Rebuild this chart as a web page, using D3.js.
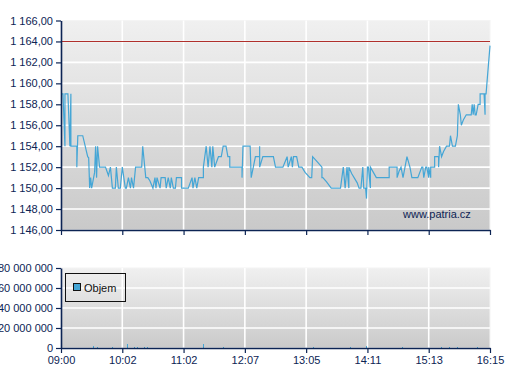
<!DOCTYPE html>
<html><head><meta charset="utf-8">
<script src="https://cdn.jsdelivr.net/npm/d3@7"></script>
<style>
html,body{margin:0;padding:0;background:#fff;}
svg{display:block;font-family:"Liberation Sans",Arial,sans-serif;}
</style></head>
<body>
<svg id="c" width="507" height="380"></svg>
<script>
// ---- data ----
const tickTimes = ["09:00","10:02","11:02","12:07","13:05","14:11","15:13","16:15"];
const priceTicks = [1146,1148,1150,1152,1154,1156,1158,1160,1162,1164,1166];
const volumeTicks = [0,20000000,40000000,60000000,80000000];
const refLevel = 1164;
const priceTimes = ["09:00","09:02","09:04","09:04","09:07","09:09","09:10","09:10","09:16","09:16","09:17","09:22","09:27","09:28","09:29","09:30","09:31","09:33","09:34","09:35","09:36","09:37","09:39","09:45","09:48","09:50","09:52","09:55","09:56","09:58","10:00",
"10:02","10:05","10:06","10:08","10:10","10:11","10:13","10:15","10:21","10:22","10:25","10:27","10:29","10:32","10:34","10:35","10:36","10:39","10:40","10:44","10:45","10:47","10:49","10:50","10:52","10:54","10:55","11:00","11:00",
"11:07","11:11","11:12","11:14","11:16","11:18","11:23","11:23","11:26","11:28","11:30","11:32","11:33","11:35","11:39","11:42","11:44","11:47","11:49","11:51","11:51","12:04","12:04","12:05",
"12:12","12:13","12:17","12:21","12:21","12:21","12:24","12:34","12:36","12:43","12:47","12:48","12:51","12:52","12:53","12:56","12:58","13:01","13:04",
"13:09","13:11","13:12","13:18","13:22","13:22","13:23","13:27","13:32","13:42","13:45","13:47","13:49","13:51","13:51","13:54","14:00","14:02","14:04","14:06","14:07","14:09","14:10",
"14:11","14:12","14:14","14:14","14:20","14:33","14:33","14:41","14:41","14:43","14:45","14:47","14:51","14:54","14:56","15:02","15:06","15:07","15:08","15:10","15:11","15:13",
"15:13","15:15","15:15","15:19","15:19","15:23","15:23","15:24","15:26","15:28","15:31","15:34","15:35","15:37","15:40","15:42","15:43","15:45","15:46","15:48","15:51","15:56","15:57","15:58","15:59","16:00","16:01","16:03","16:05","16:05","16:09","16:10","16:10","16:11","16:15"];
const priceValues = [1159,1159,1154,1159,1159,1154,1159,1154,1154,1152,1155,1155,1153,1152.9,1150,1151,1150,1151,1151.5,1154,1151,1154,1152,1152,1151.2,1152,1150,1150,1152,1150,1150,
1152,1150,1150,1151,1150,1151,1150,1152,1152,1154,1151,1151,1150.7,1150,1151,1150,1151,1150,1151,1151,1150,1151,1150,1151,1150,1150,1151,1151,1150,
1150,1151,1150,1151,1150,1151,1151,1152,1154,1152,1154,1152,1154,1152,1153,1153,1154,1154,1153,1153,1152,1152,1151,1154,
1154,1151,1153,1153,1154,1152,1153,1153,1152,1152,1153,1152,1153,1152,1153,1153,1152,1152,1151.5,
1151,1151,1153,1152.4,1152,1151,1151,1150.6,1150,1150,1152,1150,1152,1150,1152,1151.4,1150.5,1150,1150,1152,1150,1150,1149,
1152,1152,1150,1152,1151,1151,1152,1152,1151,1151.6,1152,1151,1153,1152,1151,1151,1152,1152,1151,1152,1152,1151,
1152,1151,1152,1152,1153,1153,1152,1154,1153,1153.5,1154,1154,1155,1154,1154,1155,1158,1157,1156,1156.5,1157,1157,1158,1157,1158,1157,1157,1158,1158,1159,1159,1157,1159,1159,1163.6];
const volumeTimes = ["09:32","09:36","09:52","10:07","10:13","10:16","10:23","10:26","11:23","11:44","13:12","13:52","14:09","14:46","15:25","15:34","15:42","16:02"];
const volumeValues = [2000000,1000000,1000000,4000000,1000000,1000000,1000000,1000000,4000000,1000000,1000000,1000000,2000000,1000000,1000000,1000000,1000000,1000000];
const legendLabel = "Objem";
const watermark = "www.patria.cz";

// ---- helpers ----
const toMin = s => { const [h,m] = s.split(":").map(Number); return (h-9)*60 + m; };
const loc = d3.formatLocale({decimal:",", thousands:" ", grouping:[3], currency:["",""]});
const fPrice = loc.format(",.2f");
const fVol = loc.format(",.0f");

const svg = d3.select("#c");
const L = 61, R = 490;
const navy = "#0c2454";
const lineCol = "#45a6d6";

const x = d3.scaleLinear()
  .domain(tickTimes.map(toMin))
  .range(tickTimes.map((d,i) => L + (R-L)*i/(tickTimes.length-1)));

const y = d3.scaleLinear().domain([1146,1166]).range([230,20.5]);
const yv = d3.scaleLinear().domain([0,80000000]).range([348,268]);

const defs = svg.append("defs");
const g1 = defs.append("linearGradient").attr("id","bg1").attr("x1",0).attr("y1",0).attr("x2",0).attr("y2",1);
g1.append("stop").attr("offset","0%").attr("stop-color","#f0f0f0");
g1.append("stop").attr("offset","100%").attr("stop-color","#c9c9c9");
const g2 = defs.append("linearGradient").attr("id","bg2").attr("x1",0).attr("y1",0).attr("x2",0).attr("y2",1);
g2.append("stop").attr("offset","0%").attr("stop-color","#f0f0f0");
g2.append("stop").attr("offset","100%").attr("stop-color","#cacaca");

// ---- price panel ----
svg.append("rect").attr("x",L).attr("y",y(1166)).attr("width",R-L).attr("height",y(1146)-y(1166))
  .attr("fill","url(#bg1)").attr("stroke","#f4f4f4").attr("stroke-width",1);

const grid1 = svg.append("g");
grid1.selectAll("line.h").data(priceTicks.slice(1,-1)).join("line")
  .attr("x1",L).attr("x2",R).attr("y1",d=>y(d)).attr("y2",d=>y(d))
  .attr("stroke","#fff").attr("stroke-width",1.6);
grid1.selectAll("line.v").data(tickTimes.slice(1,-1)).join("line")
  .attr("x1",d=>x(toMin(d))).attr("x2",d=>x(toMin(d))).attr("y1",y(1166)).attr("y2",y(1146))
  .attr("stroke","#fff").attr("stroke-width",1.6);

svg.append("line").attr("x1",L).attr("x2",R).attr("y1",y(refLevel)).attr("y2",y(refLevel))
  .attr("stroke","#b0302c").attr("stroke-width",1.1);

svg.append("text").attr("x",403).attr("y",218).attr("font-size",11).attr("fill",navy).text(watermark);

const pts = priceTimes.map((t,i)=>[toMin(t), priceValues[i]]);
svg.append("path").datum(pts)
  .attr("d", d3.line().x(d=>x(d[0])).y(d=>y(d[1])))
  .attr("fill","none").attr("stroke",lineCol).attr("stroke-width",1.2);

const ay = svg.append("g").attr("transform",`translate(${L},0)`)
  .call(d3.axisLeft(y).tickValues(priceTicks).tickFormat(fPrice).tickSize(5).tickSizeOuter(0).tickPadding(3));
const ax1 = svg.append("g").attr("transform",`translate(0,${y(1146)})`)
  .call(d3.axisBottom(x).tickValues(tickTimes.map(toMin)).tickFormat("").tickSize(5).tickSizeOuter(0));

// ---- volume panel ----
svg.append("rect").attr("x",L).attr("y",yv(80000000)).attr("width",R-L).attr("height",yv(0)-yv(80000000))
  .attr("fill","url(#bg2)").attr("stroke","#f4f4f4").attr("stroke-width",1);
const grid2 = svg.append("g");
grid2.selectAll("line.h").data(volumeTicks.slice(1,-1)).join("line")
  .attr("x1",L).attr("x2",R).attr("y1",d=>yv(d)).attr("y2",d=>yv(d))
  .attr("stroke","#fff").attr("stroke-width",1.6);
grid2.selectAll("line.v").data(tickTimes.slice(1,-1)).join("line")
  .attr("x1",d=>x(toMin(d))).attr("x2",d=>x(toMin(d))).attr("y1",yv(80000000)).attr("y2",yv(0))
  .attr("stroke","#fff").attr("stroke-width",1.6);

svg.append("g").selectAll("line").data(volumeTimes.map((t,i)=>[toMin(t),volumeValues[i]])).join("line")
  .attr("x1",d=>Math.round(x(d[0]))+0.5).attr("x2",d=>Math.round(x(d[0]))+0.5)
  .attr("y1",yv(0)).attr("y2",d=>yv(d[1]))
  .attr("stroke",lineCol).attr("stroke-width",1);

const ayv = svg.append("g").attr("transform",`translate(${L},0)`)
  .call(d3.axisLeft(yv).tickValues(volumeTicks).tickFormat(fVol).tickSize(5).tickSizeOuter(0).tickPadding(3));
const ax2 = svg.append("g").attr("transform",`translate(0,${yv(0)})`)
  .call(d3.axisBottom(x).tickValues(tickTimes.map(toMin)).tickFormat((d,i)=>tickTimes[i]).tickSize(5).tickSizeOuter(0).tickPadding(3));

[ay,ax1,ayv,ax2].forEach(a=>{
  a.selectAll("path.domain").attr("stroke",navy).attr("stroke-width",1.6);
  a.selectAll(".tick line").attr("stroke",navy).attr("stroke-width",1.2);
  a.selectAll("text").attr("fill",navy).attr("font-size",11).attr("font-family","'Liberation Sans',Arial,sans-serif");
});

// legend
const lg = svg.append("g");
lg.append("rect").attr("x",65.5).attr("y",273.5).attr("width",60).attr("height",28)
  .attr("fill","none").attr("stroke","#111").attr("stroke-width",1);
lg.append("rect").attr("x",73.5).attr("y",283.5).attr("width",7).attr("height",7)
  .attr("fill",lineCol).attr("stroke","#111").attr("stroke-width",1);
lg.append("text").attr("x",84).attr("y",292).attr("font-size",11).attr("fill","#111").text(legendLabel);
</script>
</body></html>
